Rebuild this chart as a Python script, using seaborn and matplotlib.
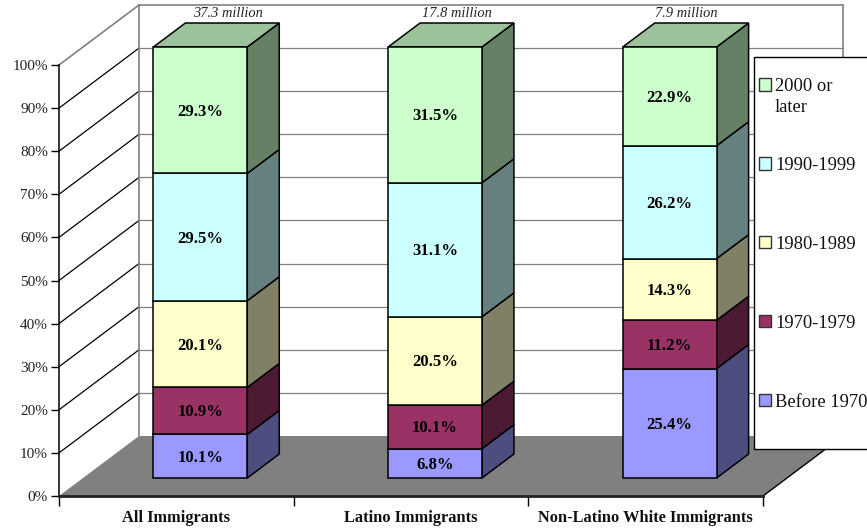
import matplotlib.pyplot as plt
import seaborn as sns
import numpy as np
import pandas as pd
from matplotlib.patches import Patch, Polygon, Rectangle
from matplotlib.transforms import Affine2D

groups = ['All Immigrants', 'Latino Immigrants', 'Non-Latino White Immigrants']
periods = ['Before 1970', '1970-1979', '1980-1989', '1990-1999', '2000 or\nlater']
before_1970 = [10.1, 6.8, 25.4]
from_1970 = [10.9, 10.1, 11.2]
from_1980 = [20.1, 20.5, 14.3]
from_1990 = [29.5, 31.1, 26.2]
from_2000 = [29.3, 31.5, 22.9]
totals = ['37.3 million', '17.8 million', '7.9 million']
colors = ['#9999FF', '#993366', '#FFFFCC', '#CCFFFF', '#CCFFCC']

W, H = 867, 529
sns.set_theme(style='white')
plt.rcParams['font.family'] = ['Liberation Serif', 'DejaVu Serif']

values = np.array([before_1970, from_1970, from_1980, from_1990, from_2000])
shares = values / values.sum(axis=0) * 100
df = pd.DataFrame(shares.T, columns=periods)
df['group'] = groups

fig = plt.figure(figsize=(W / 100, H / 100), dpi=100, facecolor='white')
ax = fig.add_axes([59 / W, (H - 496) / H, 704 / W, 431 / H], facecolor='none')
ax.set_xlim(-0.5, 2.5)
ax.set_ylim(0, 100)

# pixel sizes of the fake 3d projection, turned into data units
px_x = 3 / 704
px_y = 100 / 431
wall_dx, wall_dy = 80 * px_x, 60 * px_y
bar_dx, bar_dy = 32 * px_x, 24 * px_y
bar_shift = ax.transData + Affine2D().translate(24, 18)
label_shift = bar_shift + Affine2D().translate(0, -1.5)
x0, x1 = -0.5, 2.5
wall = '#808080'
to_rgb = plt.matplotlib.colors.to_rgb

# floor
ax.add_patch(Polygon([(x0, 0), (x0 + wall_dx, wall_dy), (x1 + wall_dx, wall_dy), (x1, 0)],
                     facecolor=wall, edgecolor='none', clip_on=False, zorder=1))
ax.plot([x1, x1 + wall_dx], [0, wall_dy], color='black', lw=1, clip_on=False, zorder=1.1)

# walls and gridlines
for t in np.arange(10, 101, 10):
    ax.plot([x0, x0 + wall_dx], [t, t + wall_dy], color=wall if t == 100 else 'black',
            lw=1.2 if t == 100 else 0.9, clip_on=False, zorder=0.5)
    ax.plot([x0 + wall_dx, x1 + wall_dx], [t + wall_dy, t + wall_dy], color=wall,
            lw=1.2 if t == 100 else 0.9, clip_on=False, zorder=0.5)
for xw in [x0 + wall_dx, x1 + wall_dx]:
    ax.plot([xw, xw], [wall_dy, 100 + wall_dy], color=wall, lw=1.2, clip_on=False, zorder=0.5)

# stacked bars, front faces come from seaborn
bottoms = np.zeros(len(groups))
for i, period in enumerate(periods):
    n_before = len(ax.patches)
    sns.barplot(data=df, x='group', y=period, order=groups, color=colors[i], saturation=1,
                width=0.4, bottom=bottoms, edgecolor='black', linewidth=1.1, ax=ax, zorder=3)
    for j, bar in enumerate(ax.patches[n_before:]):
        bar.set_transform(bar_shift)
        bar.set_clip_on(False)
        left, right = bar.get_x(), bar.get_x() + bar.get_width()
        low, high = bar.get_y(), bar.get_y() + bar.get_height()
        side = [(right, low), (right + bar_dx, low + bar_dy), (right + bar_dx, high + bar_dy), (right, high)]
        ax.add_patch(Polygon(side, facecolor=np.array(to_rgb(colors[i])) * 0.5,
                             edgecolor='black', lw=1.1, transform=bar_shift, clip_on=False, zorder=2.5))
        if i == len(periods) - 1:
            top = [(left, high), (left + bar_dx, high + bar_dy), (right + bar_dx, high + bar_dy), (right, high)]
            ax.add_patch(Polygon(top, facecolor=np.array(to_rgb(colors[i])) * 0.76,
                                 edgecolor='black', lw=1.1, transform=bar_shift, clip_on=False, zorder=2.5))
        ax.text(j, (low + high) / 2, f'{values[i][j]:.1f}%', ha='center', va='center', fontsize=12,
                fontweight='bold', color='black', transform=label_shift, zorder=4)
    bottoms = bottoms + shares[i]

# group totals above the bars
total_nudge = [28, 22, 17]
for j, label in enumerate(totals):
    ax.annotate(label, (j, 100), xycoords=bar_shift, xytext=(total_nudge[j] * 0.72, 24),
                textcoords='offset points', ha='center', va='center', fontsize=10.4,
                style='italic', color='#222222', annotation_clip=False)

# axes
sns.despine(ax=ax)
ax.spines['left'].set_color('black')
ax.spines['left'].set_linewidth(1.1)
ax.spines['bottom'].set_color('#222222')
ax.spines['bottom'].set_linewidth(2)
ax.set_xlabel('')
ax.set_ylabel('')
ax.set_yticks(np.arange(0, 101, 10), [f'{t}%' for t in range(0, 101, 10)])
ax.tick_params(axis='y', left=True, length=6, width=1, color='black', pad=2, labelsize=11, labelcolor='#222222')
ax.set_xticks([0.5 + k - 1 for k in range(4)], [''] * 4)
ax.tick_params(axis='x', which='major', bottom=True, length=7, width=1, color='black')
ax.set_xticks(range(3), groups, minor=True)
ax.tick_params(axis='x', which='minor', bottom=False, pad=6, labelsize=11.8, labelcolor='#111111')
for tick in ax.get_xticklabels(minor=True):
    tick.set_fontweight('bold')

# legend box runs off the right edge of the picture
ax.add_patch(Rectangle((754 / W, (H - 449) / H), 130 / W, 392 / H, transform=fig.transFigure,
                       facecolor='white', edgecolor='black', lw=1, clip_on=False, zorder=10))
handles = [Patch(facecolor=c, edgecolor='#333333', lw=1) for c in colors[::-1]]
first_lines = [p.split('\n')[0] for p in periods[::-1]]
leg = ax.legend(handles, first_lines, loc='upper left', bbox_to_anchor=(759 / W, 1 - 78 / H),
                bbox_transform=fig.transFigure, frameon=False, fontsize=13.3, handlelength=0.65,
                handleheight=0.65, handletextpad=0.22, labelspacing=3.35, borderpad=0, borderaxespad=0)
leg.set_zorder(11)
for text in leg.get_texts():
    text.set_color('#111111')
# second line of the wrapped legend entry
fig.text(775 / W, 1 - 108 / H, periods[-1].split('\n')[1], fontsize=13.3, color='#111111',
         va='center', ha='left', zorder=12)

fig.savefig('out.png', dpi=100)
